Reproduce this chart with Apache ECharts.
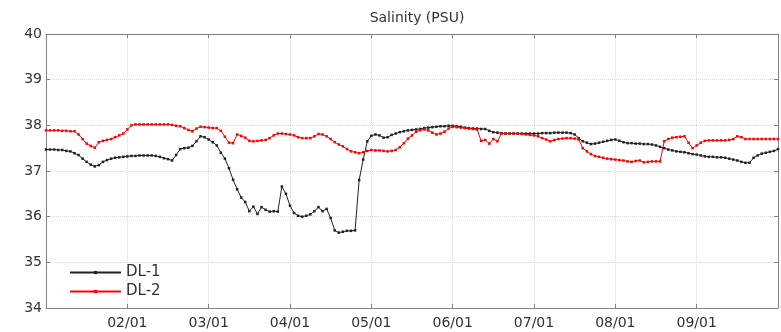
<!DOCTYPE html>
<html>
<head>
<meta charset="utf-8">
<script src="https://cdn.jsdelivr.net/npm/echarts@6/dist/echarts.min.js"></script>
<style>html,body{margin:0;padding:0;background:#fff;}#c{width:781px;height:332px;}</style>
</head>
<body>
<div id="c"></div>
<script>
// x position of sample i = START_MONTH + i * STEP (months, 1 = Jan 1)
const START_MONTH = 1;
const STEP = 0.05;
const monthLabels = ['02/01','03/01','04/01','05/01','06/01','07/01','08/01','09/01'];
const yTicks = [34,35,36,37,38,39,40];

const dl1 = [
37.47,37.47,37.47,37.46,37.46,37.44,37.43,37.39,37.35,37.27,
37.20,37.14,37.10,37.13,37.20,37.24,37.27,37.29,37.30,37.31,
37.32,37.33,37.33,37.34,37.34,37.34,37.34,37.33,37.31,37.28,
37.26,37.23,37.35,37.48,37.50,37.51,37.55,37.65,37.76,37.74,
37.69,37.63,37.56,37.40,37.27,37.06,36.81,36.60,36.42,36.32,
36.12,36.22,36.06,36.21,36.15,36.11,36.12,36.11,36.66,36.50,
36.24,36.08,36.02,36.00,36.02,36.05,36.12,36.21,36.12,36.17,
35.97,35.70,35.65,35.67,35.69,35.69,35.70,36.80,37.25,37.65,
37.77,37.80,37.78,37.73,37.74,37.79,37.82,37.85,37.87,37.89,
37.90,37.91,37.92,37.94,37.95,37.96,37.97,37.98,37.98,37.99,
37.99,37.98,37.97,37.95,37.94,37.93,37.93,37.92,37.92,37.88,
37.85,37.84,37.83,37.82,37.82,37.82,37.82,37.82,37.82,37.82,
37.82,37.82,37.83,37.83,37.83,37.84,37.84,37.84,37.84,37.83,
37.80,37.72,37.65,37.62,37.59,37.60,37.62,37.64,37.66,37.68,
37.69,37.66,37.63,37.61,37.61,37.60,37.60,37.59,37.59,37.58,
37.56,37.53,37.50,37.47,37.45,37.43,37.42,37.41,37.39,37.37,
37.36,37.34,37.32,37.31,37.31,37.30,37.30,37.29,37.27,37.25,
37.23,37.20,37.18,37.18,37.29,37.34,37.38,37.40,37.42,37.44,
37.48
];

const dl2 = [
37.89,37.89,37.89,37.89,37.88,37.88,37.87,37.87,37.80,37.70,
37.60,37.55,37.51,37.63,37.66,37.68,37.70,37.74,37.78,37.82,
37.91,38.00,38.02,38.02,38.02,38.02,38.02,38.02,38.02,38.02,
38.02,38.01,37.99,37.98,37.94,37.90,37.87,37.93,37.97,37.96,
37.95,37.94,37.94,37.88,37.75,37.62,37.61,37.80,37.77,37.73,
37.66,37.65,37.66,37.67,37.68,37.72,37.78,37.82,37.82,37.81,
37.80,37.78,37.74,37.72,37.72,37.72,37.76,37.81,37.80,37.76,
37.70,37.63,37.58,37.54,37.48,37.43,37.41,37.39,37.41,37.44,
37.46,37.45,37.45,37.44,37.43,37.44,37.46,37.52,37.61,37.71,
37.78,37.86,37.89,37.91,37.89,37.84,37.80,37.82,37.86,37.93,
37.97,37.96,37.95,37.94,37.93,37.92,37.91,37.66,37.68,37.60,
37.70,37.65,37.82,37.82,37.82,37.82,37.82,37.81,37.80,37.79,
37.78,37.76,37.72,37.69,37.65,37.68,37.70,37.71,37.72,37.72,
37.71,37.69,37.50,37.43,37.37,37.33,37.31,37.29,37.27,37.26,
37.25,37.24,37.23,37.21,37.20,37.22,37.23,37.19,37.20,37.21,
37.21,37.21,37.65,37.70,37.73,37.74,37.75,37.76,37.62,37.50,
37.56,37.62,37.66,37.67,37.67,37.67,37.67,37.67,37.68,37.70,
37.76,37.74,37.70,37.70,37.70,37.70,37.70,37.70,37.70,37.70,
37.70
];

const toPairs = arr => arr.map((v, i) => [START_MONTH + i * STEP, v]);

const FONT = '"DejaVu Sans", Arial, sans-serif';
const AXIS_COLOR = '#808080';
const TEXT_COLOR = '#333';

const chart = echarts.init(document.getElementById('c'), null, {renderer: 'canvas'});
const baseX = {
  type: 'value', min: 1, max: 10, interval: 1,
  axisLine: {show: true, onZero: false, lineStyle: {color: AXIS_COLOR, width: 1}},
  axisTick: {show: true, inside: true, length: 4, lineStyle: {color: AXIS_COLOR}},
  splitLine: {show: false}
};
const baseY = {
  type: 'value', min: yTicks[0], max: yTicks[yTicks.length - 1], interval: 1,
  axisLine: {show: true, onZero: false, lineStyle: {color: AXIS_COLOR, width: 1}},
  axisTick: {show: true, inside: true, length: 4, lineStyle: {color: AXIS_COLOR}},
  splitLine: {show: false}
};

chart.setOption({
  animation: false,
  backgroundColor: '#fff',
  title: {
    text: 'Salinity (PSU)', left: 412, top: 6, textAlign: 'center',
    textStyle: {fontFamily: FONT, fontSize: 14, fontWeight: 'normal', color: TEXT_COLOR}
  },
  grid: {left: 46, right: 3, top: 34, bottom: 24, containLabel: false},
  legend: {
    orient: 'vertical', left: 64, top: 260, itemWidth: 51, itemHeight: 4, itemGap: 4,
    textStyle: {fontFamily: FONT, fontSize: 15, color: TEXT_COLOR},
    data: ['DL-1', 'DL-2']
  },
  xAxis: [
    Object.assign({}, baseX, {
      position: 'bottom',
      axisLabel: {
        show: true, margin: 8, fontFamily: FONT, fontSize: 14, color: TEXT_COLOR,
        showMinLabel: true, showMaxLabel: true,
        formatter: v => (v >= 2 && v <= 9) ? monthLabels[Math.round(v) - 2] : ''
      },
      splitLine: {show: true, lineStyle: {color: '#d8d8d8', type: 'dotted', width: 1}}
    }),
    Object.assign({}, baseX, {position: 'top', axisLabel: {show: false}})
  ],
  yAxis: [
    Object.assign({}, baseY, {
      position: 'left',
      axisLabel: {show: true, margin: 4, fontFamily: FONT, fontSize: 14, color: TEXT_COLOR},
      splitLine: {show: true, lineStyle: {color: '#d8d8d8', type: 'dotted', width: 1}}
    }),
    Object.assign({}, baseY, {position: 'right', axisLabel: {show: false}})
  ],
  series: [
    {
      name: 'DL-1', type: 'line', xAxisIndex: 0, yAxisIndex: 0,
      data: toPairs(dl1),
      symbol: 'rect', symbolSize: 2.5, showSymbol: true,
      lineStyle: {color: '#222', width: 1},
      itemStyle: {color: '#222'}
    },
    {
      name: 'DL-2', type: 'line', xAxisIndex: 0, yAxisIndex: 0,
      data: toPairs(dl2),
      symbol: 'rect', symbolSize: 2.5, showSymbol: true,
      lineStyle: {color: '#ff0000', width: 1},
      itemStyle: {color: '#ff0000'}
    }
  ]
});
</script>
</body>
</html>
